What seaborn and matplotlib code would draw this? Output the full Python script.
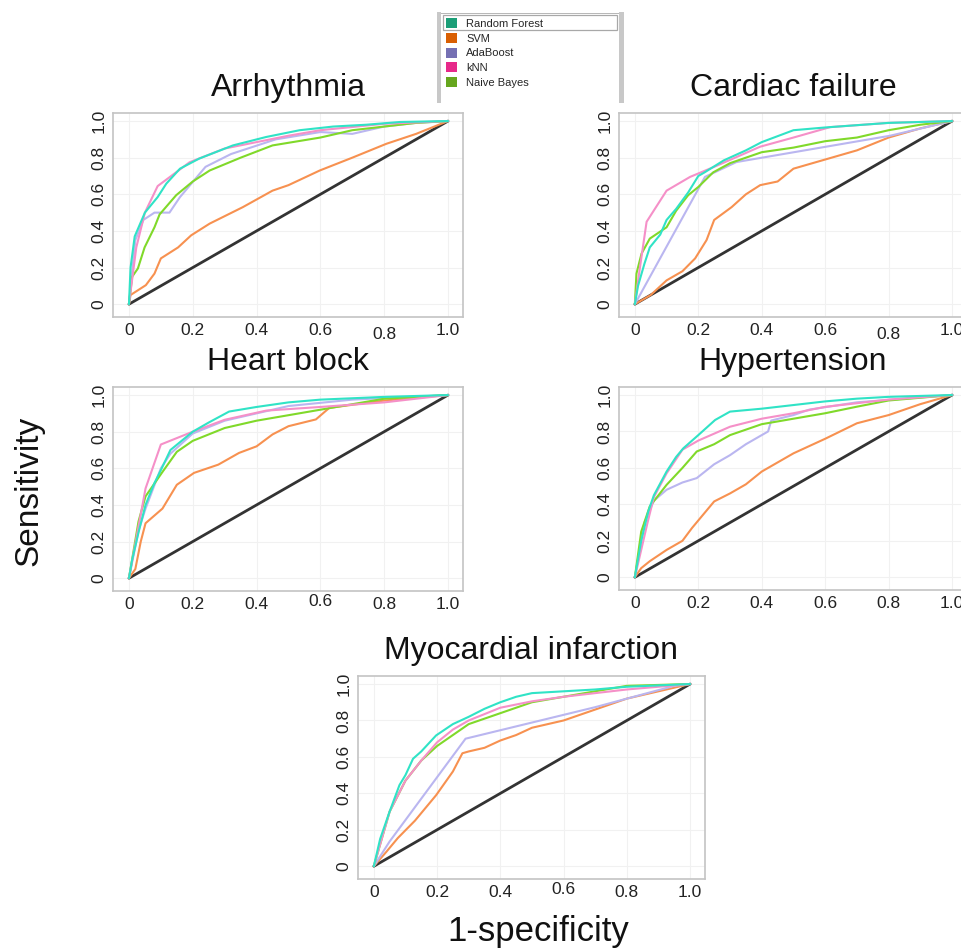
import matplotlib
matplotlib.use("Agg")
import matplotlib.pyplot as plt
import seaborn as sns
import pandas as pd
from matplotlib.patches import Patch, Rectangle

# models, legend colours (Dark2) and the lighter line colours used in the panels
MODELS = ["Random Forest", "SVM", "AdaBoost", "kNN", "Naive Bayes"]
LEGEND_COLORS = sns.color_palette("Dark2", 5)
LINE_COLORS = {
    "Random Forest": "#30e3c6",
    "SVM": "#f79150",
    "AdaBoost": "#bab6f0",
    "kNN": "#f590c8",
    "Naive Bayes": "#80d92a",
}
DRAW_ORDER = ["SVM", "AdaBoost", "Naive Bayes", "kNN", "Random Forest"]

TICKS = [0, 0.2, 0.4, 0.6, 0.8, 1.0]
TICK_LABELS = ["0", "0.2", "0.4", "0.6", "0.8", "1.0"]
chance = [(0, 0), (1, 1)]

# ROC points (1-specificity, sensitivity)
arr_rf = [(0, 0), (0.005, 0.2), (0.018, 0.37), (0.05, 0.5), (0.09, 0.585), (0.117, 0.658), (0.16, 0.74),
          (0.22, 0.795), (0.326, 0.867), (0.43, 0.913), (0.535, 0.95), (0.64, 0.97), (0.744, 0.98),
          (0.85, 0.995), (1, 1)]
arr_svm = [(0, 0), (0.005, 0.05), (0.053, 0.104), (0.08, 0.167), (0.1, 0.25), (0.154, 0.31), (0.195, 0.376),
           (0.253, 0.44), (0.305, 0.485), (0.357, 0.53), (0.45, 0.62), (0.5, 0.65), (0.598, 0.73),
           (0.70, 0.80), (0.807, 0.876), (0.9, 0.93), (1, 1)]
arr_ada = [(0, 0), (0.02, 0.35), (0.045, 0.46), (0.08, 0.5), (0.127, 0.5), (0.16, 0.585), (0.24, 0.75),
           (0.32, 0.82), (0.46, 0.9), (0.6, 0.94), (0.7, 0.93), (0.8, 0.97), (0.9, 0.99), (1, 1)]
arr_knn = [(0, 0), (0.023, 0.31), (0.05, 0.5), (0.09, 0.645), (0.19, 0.775), (0.3, 0.85), (0.5, 0.92),
           (0.6, 0.95), (0.8, 0.985), (1, 1)]
arr_nb = [(0, 0), (0.01, 0.15), (0.028, 0.195), (0.049, 0.31), (0.08, 0.42), (0.096, 0.49), (0.148, 0.595),
          (0.2, 0.67), (0.253, 0.73), (0.35, 0.8), (0.45, 0.867), (0.6, 0.91), (0.7, 0.95), (0.8, 0.97),
          (0.9, 0.99), (1, 1)]

card_rf = [(0, 0), (0.01, 0.1), (0.03, 0.22), (0.047, 0.31), (0.08, 0.38), (0.1, 0.46), (0.13, 0.52),
           (0.168, 0.61), (0.2, 0.70), (0.22, 0.72), (0.28, 0.785), (0.35, 0.84), (0.4, 0.885), (0.5, 0.95),
           (0.6, 0.965), (0.8, 0.99), (1, 1)]
card_svm = [(0, 0), (0.05, 0.05), (0.1, 0.13), (0.15, 0.18), (0.19, 0.25), (0.226, 0.35), (0.25, 0.46),
            (0.305, 0.53), (0.35, 0.6), (0.395, 0.65), (0.45, 0.67), (0.5, 0.74), (0.6, 0.79), (0.7, 0.84),
            (0.8, 0.91), (0.9, 0.96), (1, 1)]
card_ada = [(0, 0), (0.221, 0.695), (0.32, 0.776), (0.805, 0.92), (1, 1)]
card_knn = [(0, 0), (0.016, 0.2), (0.037, 0.45), (0.1, 0.62), (0.174, 0.695), (0.25, 0.75), (0.395, 0.86),
            (0.5, 0.91), (0.616, 0.967), (0.8, 0.99), (1, 1)]
card_nb = [(0, 0), (0.005, 0.167), (0.021, 0.276), (0.047, 0.358), (0.1, 0.42), (0.13, 0.51), (0.168, 0.595),
           (0.2, 0.64), (0.247, 0.72), (0.3, 0.77), (0.4, 0.83), (0.5, 0.855), (0.6, 0.89), (0.7, 0.91),
           (0.8, 0.95), (0.9, 0.98), (1, 1)]

hb_rf = [(0, 0), (0.01, 0.1), (0.03, 0.25), (0.052, 0.4), (0.08, 0.52), (0.1, 0.59), (0.13, 0.70),
         (0.2, 0.8), (0.25, 0.85), (0.314, 0.91), (0.4, 0.935), (0.5, 0.96), (0.6, 0.975), (0.8, 0.99), (1, 1)]
hb_svm = [(0, 0), (0.02, 0.05), (0.037, 0.2), (0.052, 0.3), (0.105, 0.38), (0.15, 0.51), (0.204, 0.575),
          (0.28, 0.62), (0.345, 0.684), (0.4, 0.72), (0.45, 0.785), (0.5, 0.83), (0.586, 0.867),
          (0.628, 0.93), (0.8, 0.97), (1, 1)]
hb_ada = [(0, 0), (0.03, 0.26), (0.052, 0.38), (0.1, 0.6), (0.13, 0.68), (0.2, 0.79), (0.3, 0.86),
          (0.4, 0.9), (0.5, 0.94), (0.7, 0.975), (1, 1)]
hb_knn = [(0, 0), (0.052, 0.49), (0.1, 0.73), (0.2, 0.8), (0.3, 0.865), (0.43, 0.915), (0.6, 0.935),
          (0.8, 0.96), (1, 1)]
hb_nb = [(0, 0), (0.03, 0.31), (0.052, 0.447), (0.105, 0.58), (0.15, 0.69), (0.2, 0.75), (0.3, 0.82),
         (0.4, 0.86), (0.5, 0.89), (0.6, 0.92), (0.7, 0.95), (0.8, 0.98), (1, 1)]

hyp_rf = [(0, 0), (0.02, 0.2), (0.042, 0.36), (0.06, 0.45), (0.1, 0.58), (0.13, 0.66), (0.153, 0.708),
          (0.2, 0.78), (0.253, 0.863), (0.3, 0.909), (0.4, 0.925), (0.5, 0.945), (0.6, 0.965), (0.7, 0.98),
          (0.8, 0.99), (1, 1)]
hyp_svm = [(0, 0), (0.02, 0.05), (0.047, 0.088), (0.1, 0.15), (0.15, 0.2), (0.18, 0.27), (0.25, 0.416),
           (0.3, 0.46), (0.35, 0.51), (0.4, 0.58), (0.5, 0.68), (0.6, 0.76), (0.7, 0.845), (0.8, 0.89),
           (0.9, 0.95), (1, 1)]
hyp_ada = [(0, 0), (0.03, 0.3), (0.06, 0.42), (0.1, 0.48), (0.15, 0.52), (0.195, 0.544), (0.25, 0.62),
           (0.3, 0.67), (0.35, 0.73), (0.42, 0.8), (0.43, 0.86), (0.5, 0.89), (0.55, 0.92), (0.7, 0.96), (1, 1)]
hyp_knn = [(0, 0), (0.04, 0.3), (0.06, 0.44), (0.1, 0.57), (0.15, 0.7), (0.2, 0.75), (0.3, 0.826),
           (0.4, 0.87), (0.5, 0.9), (0.6, 0.935), (0.8, 0.975), (1, 1)]
hyp_nb = [(0, 0), (0.02, 0.25), (0.047, 0.389), (0.1, 0.507), (0.15, 0.6), (0.195, 0.69), (0.25, 0.73),
          (0.3, 0.78), (0.4, 0.84), (0.5, 0.87), (0.6, 0.9), (0.7, 0.936), (0.8, 0.97), (1, 1)]

mi_rf = [(0, 0), (0.02, 0.15), (0.05, 0.3), (0.081, 0.445), (0.1, 0.5), (0.124, 0.59), (0.15, 0.63),
         (0.197, 0.718), (0.25, 0.78), (0.3, 0.82), (0.35, 0.864), (0.4, 0.9), (0.45, 0.93), (0.5, 0.95),
         (0.6, 0.96), (0.7, 0.97), (0.8, 0.985), (1, 1)]
mi_svm = [(0, 0), (0.04, 0.08), (0.076, 0.155), (0.13, 0.25), (0.197, 0.39), (0.25, 0.52), (0.28, 0.62),
          (0.3, 0.63), (0.35, 0.65), (0.4, 0.69), (0.45, 0.72), (0.5, 0.76), (0.6, 0.8), (0.7, 0.86),
          (0.8, 0.92), (0.9, 0.96), (1, 1)]
mi_ada = [(0, 0), (0.05, 0.136), (0.29, 0.7), (0.7, 0.873), (0.95, 0.99), (1, 1)]
mi_knn = [(0, 0), (0.05, 0.3), (0.1, 0.47), (0.15, 0.58), (0.2, 0.68), (0.25, 0.75), (0.3, 0.8),
          (0.4, 0.87), (0.5, 0.905), (0.6, 0.93), (0.7, 0.95), (0.8, 0.97), (1, 1)]
mi_nb = [(0, 0), (0.05, 0.3), (0.1, 0.47), (0.15, 0.58), (0.2, 0.66), (0.3, 0.78), (0.4, 0.84),
         (0.45, 0.87), (0.5, 0.9), (0.6, 0.93), (0.7, 0.96), (0.8, 0.99), (1, 1)]

W, H = 962, 952

# title, frame box in pixels (left, top, right, bottom), curves, tick label that is shifted
PANELS = [
    ("Arrhythmia", (113, 113, 463, 317),
     [arr_rf, arr_svm, arr_ada, arr_knn, arr_nb], ("0.8", -4)),
    ("Cardiac failure", (619, 113, 967, 317),
     [card_rf, card_svm, card_ada, card_knn, card_nb], ("0.8", -4)),
    ("Heart block", (113, 387, 463, 591),
     [hb_rf, hb_svm, hb_ada, hb_knn, hb_nb], ("0.6", 3)),
    ("Hypertension", (619, 387, 967, 590),
     [hyp_rf, hyp_svm, hyp_ada, hyp_knn, hyp_nb], (None, 0)),
    ("Myocardial infarction", (358, 676, 705, 879),
     [mi_rf, mi_svm, mi_ada, mi_knn, mi_nb], ("0.6", 3)),
]

sns.set_style("white")
plt.rcParams["font.family"] = ["Liberation Sans", "DejaVu Sans"]

fig = plt.figure(figsize=(W / 100, H / 100), dpi=100)


def px_rect(l, t, r, b):
    return [l / W, 1 - b / H, (r - l) / W, (b - t) / H]


for title, box, curves, (odd_label, shift) in PANELS:
    ax = fig.add_axes(px_rect(*box))
    rows = []
    for model, pts in zip(MODELS, curves):
        for i, (fx, ty) in enumerate(pts):
            rows.append({"model": model, "order": i, "fpr": fx, "tpr": ty})
    df = pd.DataFrame(rows)

    ax.grid(True, color="#f1f1f1", linewidth=0.8)
    ax.set_axisbelow(True)

    diag = pd.DataFrame(chance, columns=["fpr", "tpr"])
    sns.lineplot(data=diag, x="fpr", y="tpr", color="#333333", linewidth=2.0,
                 sort=False, estimator=None, ax=ax)
    sns.lineplot(data=df, x="fpr", y="tpr", hue="model", hue_order=DRAW_ORDER,
                 palette=LINE_COLORS, sort=False, estimator=None, units="model",
                 linewidth=1.5, legend=False, ax=ax)

    ax.set_xlim(-0.05, 1.047)
    ax.set_ylim(-0.07, 1.044)
    ax.set_xticks(TICKS, TICK_LABELS)
    ax.set_yticks(TICKS, TICK_LABELS)
    ax.set_xticks([0.1, 0.3, 0.5, 0.7, 0.9], minor=True)
    ax.set_yticks([0.1, 0.3, 0.5, 0.7, 0.9], minor=True)
    ax.tick_params(axis="both", which="both", length=3, width=1.2, color="#a0a0a0",
                   direction="inout", labelsize=12.5, labelcolor="#222222", pad=3)
    ax.tick_params(axis="y", labelrotation=90)
    for lbl in ax.get_yticklabels():
        lbl.set_va("center")
    for lbl in ax.get_xticklabels():
        if lbl.get_text() == odd_label:
            lbl.set_y(shift / (box[3] - box[1]))
    ax.set_xlabel("")
    ax.set_ylabel("")
    for sp in ax.spines.values():
        sp.set_color("#c4c4c4")
        sp.set_linewidth(1.2)
    ax.set_title(title, fontsize=23, pad=12, color="#111111")

fig.text(29 / W, 1 - 491 / H, "Sensitivity", rotation=90, ha="center", va="center",
         fontsize=24, color="#111111")
fig.text(538 / W, 1 - 932 / H, "1-specificity", ha="center", va="center",
         fontsize=25, color="#111111")

# legend drawn like a list box: wide frame, open at the bottom
handles = [Patch(facecolor=c, edgecolor="none") for c in LEGEND_COLORS]
leg = fig.legend(handles, MODELS, loc="upper left",
                 bbox_to_anchor=(441 / W, 1 - 103 / H, 181 / W, 90 / H), mode="expand",
                 fontsize=8, handlelength=1.0, handleheight=1.0, handletextpad=0.8,
                 labelspacing=0.36, borderpad=0.45, frameon=False, borderaxespad=0)
fig.add_artist(Rectangle((437 / W, 1 - 103 / H), 4 / W, 91 / H, transform=fig.transFigure,
                         facecolor="#c8c8c8", edgecolor="none"))
fig.add_artist(Rectangle((619 / W, 1 - 103 / H), 5 / W, 91 / H, transform=fig.transFigure,
                         facecolor="#c8c8c8", edgecolor="none"))
fig.add_artist(Rectangle((441 / W, 1 - 14 / H), 178 / W, 1.5 / H, transform=fig.transFigure,
                         facecolor="#b8b8b8", edgecolor="none"))
fig.add_artist(Rectangle((443 / W, 1 - 30 / H), 174 / W, 15 / H, transform=fig.transFigure,
                         facecolor="none", edgecolor="#a8a8a8", linewidth=0.9))

fig.savefig("out.png", dpi=100, facecolor="white")
